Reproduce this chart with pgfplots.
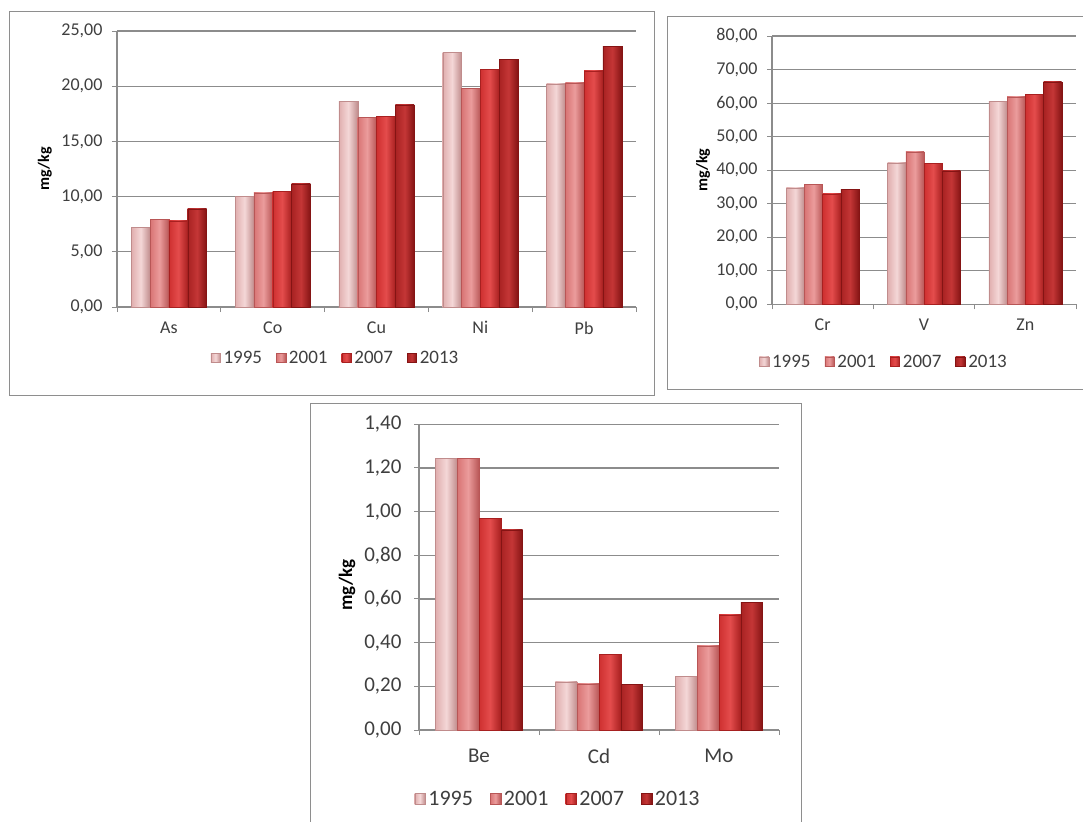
\documentclass[border=0pt]{standalone}
\usepackage{fontspec}
\setmainfont{Carlito}
\usepackage{pgfplots}
\pgfplotsset{compat=1.18}

\definecolor{framec}{HTML}{8E8E8E}
\definecolor{gridc}{HTML}{8C8C8C}
\definecolor{txt}{HTML}{3F3F3F}
% 1995
\definecolor{aL}{HTML}{F4D7D7}\definecolor{aM}{HTML}{E0AEAE}\definecolor{aD}{HTML}{C08C8C}
% 2001
\definecolor{bL}{HTML}{EB9C9C}\definecolor{bM}{HTML}{D87474}\definecolor{bD}{HTML}{B85656}
% 2007
\definecolor{cL}{HTML}{E44C4C}\definecolor{cM}{HTML}{CE3030}\definecolor{cD}{HTML}{A82020}
% 2013
\definecolor{dL}{HTML}{C43636}\definecolor{dM}{HTML}{A82222}\definecolor{dD}{HTML}{851414}

\pgfplotsset{
  yA/.style={draw=aD, line width=0.4pt, left color=aM, right color=aD, middle color=aL},
  yB/.style={draw=bD, line width=0.4pt, left color=bM, right color=bD, middle color=bL},
  yC/.style={draw=cD, line width=0.4pt, left color=cM, right color=cD, middle color=cL},
  yD/.style={draw=dD, line width=0.4pt, left color=dM, right color=dD, middle color=dL},
  % one bar per plot, so every bar gets its own gradient
  bA/.style={yA, forget plot, bar shift=-1.5*\pgfplotbarwidth},
  bB/.style={yB, forget plot, bar shift=-0.5*\pgfplotbarwidth},
  bC/.style={yC, forget plot, bar shift=0.5*\pgfplotbarwidth},
  bD/.style={yD, forget plot, bar shift=1.5*\pgfplotbarwidth},
  panel/.style={
    scale only axis,
    axis x line*=bottom, axis y line*=left,
    axis line style={draw=gridc, line width=1.1pt},
    ymajorgrids, grid style={draw=gridc, line width=1.1pt},
    tick align=outside, major tick length=5pt,
    tick style={draw=gridc, line width=1pt},
    ybar=0pt, ymin=0,
    xticklabels={},
    /pgf/number format/assume math mode=true,
    yticklabel style={/pgf/number format/fixed, /pgf/number format/fixed zerofill,
      /pgf/number format/precision=2, /pgf/number format/use comma, xshift=-6pt},
    tick label style={text=txt, font=\fontsize{18}{20}\selectfont},
    ylabel={mg/kg},
    ylabel style={font=\bfseries\fontsize{16}{18}\selectfont, text=black, anchor=center},
    extra x tick style={major tick length=0pt, grid=none,
      tick label style={font=\fontsize{18}{20}\selectfont, yshift=-11pt}},
    legend columns=4,
    legend style={draw=none, fill=none, anchor=center, text=txt,
      font=\fontsize{19}{21}\selectfont,
      nodes={inner xsep=3pt},
      /tikz/every even column/.append style={column sep=11pt}},
    legend image code/.code={\draw[##1] (0pt,-4.5pt) rectangle (9.5pt,5pt);},
  },
}

\begin{document}
\begin{tikzpicture}
\useasboundingbox (0pt,0pt) rectangle (1083pt,-821pt);
\fill[white] (0pt,0pt) rectangle (1083pt,-821pt);

% frames around the three charts
\draw[framec, line width=1pt] (9.5pt,-12pt) rectangle (654pt,-395pt);
\draw[framec, line width=1pt] (1090pt,-17pt) -- (667pt,-17pt) -- (667pt,-389pt) -- (1090pt,-389pt);
\draw[framec, line width=1pt] (310pt,-830pt) -- (310pt,-403pt) -- (801.5pt,-403pt) -- (801.5pt,-830pt);

% As, Co, Cu, Ni, Pb
\begin{axis}[panel,
  at={(117pt,-307pt)}, anchor=south west,
  width=519pt, height=276pt,
  xmin=-0.5, xmax=4.5, ymax=25, ytick distance=5,
  xtick={-0.5,0.5,...,4.5},
  extra x ticks={0,1,2,3,4}, extra x tick labels={As,Co,Cu,Ni,Pb},
  bar width=18.8pt,
  ylabel style={at={(axis description cs:-0.139,0.5)}},
  legend style={at={(axis description cs:0.422,-0.185)}},
]
% 1995
\addplot[bA] coordinates {(0,7.2)};
\addplot[bA] coordinates {(1,10.05)};
\addplot[bA] coordinates {(2,18.6)};
\addplot[bA] coordinates {(3,23.05)};
\addplot[bA] coordinates {(4,20.2)};
% 2001
\addplot[bB] coordinates {(0,7.95)};
\addplot[bB] coordinates {(1,10.35)};
\addplot[bB] coordinates {(2,17.2)};
\addplot[bB] coordinates {(3,19.8)};
\addplot[bB] coordinates {(4,20.3)};
% 2007
\addplot[bC] coordinates {(0,7.8)};
\addplot[bC] coordinates {(1,10.45)};
\addplot[bC] coordinates {(2,17.25)};
\addplot[bC] coordinates {(3,21.5)};
\addplot[bC] coordinates {(4,21.4)};
% 2013
\addplot[bD] coordinates {(0,8.9)};
\addplot[bD] coordinates {(1,11.15)};
\addplot[bD] coordinates {(2,18.3)};
\addplot[bD] coordinates {(3,22.45)};
\addplot[bD] coordinates {(4,23.6)};
\addlegendimage{yA}\addlegendimage{yB}\addlegendimage{yC}\addlegendimage{yD}
\legend{1995,2001,2007,2013}
\end{axis}

% Cr, V, Zn
\begin{axis}[panel,
  at={(772pt,-304.3pt)}, anchor=south west,
  width=304pt, height=268.3pt,
  xmin=-0.5, xmax=2.5, ymax=80, ytick distance=10,
  xtick={-0.5,0.5,...,2.5},
  extra x ticks={0,1,2}, extra x tick labels={Cr,V,Zn},
  bar width=18.2pt,
  ylabel style={at={(axis description cs:-0.227,0.5)}},
  legend style={at={(axis description cs:0.37,-0.215)}},
]
% 1995
\addplot[bA] coordinates {(0,34.7)};
\addplot[bA] coordinates {(1,42.2)};
\addplot[bA] coordinates {(2,60.6)};
% 2001
\addplot[bB] coordinates {(0,35.8)};
\addplot[bB] coordinates {(1,45.5)};
\addplot[bB] coordinates {(2,61.9)};
% 2007
\addplot[bC] coordinates {(0,32.9)};
\addplot[bC] coordinates {(1,42.0)};
\addplot[bC] coordinates {(2,62.6)};
% 2013
\addplot[bD] coordinates {(0,34.3)};
\addplot[bD] coordinates {(1,39.8)};
\addplot[bD] coordinates {(2,66.3)};
\addlegendimage{yA}\addlegendimage{yB}\addlegendimage{yC}\addlegendimage{yD}
\legend{1995,2001,2007,2013}
\end{axis}

% Be, Cd, Mo
\begin{axis}[panel,
  at={(419pt,-730pt)}, anchor=south west,
  width=360pt, height=305.7pt,
  xmin=-0.5, xmax=2.5, ymax=1.4, ytick distance=0.2,
  xtick={-0.5,0.5,...,2.5},
  extra x ticks={0,1,2}, extra x tick labels={Be,Cd,Mo},
  bar width=21.8pt,
  tick label style={font=\fontsize{21}{23}\selectfont},
  yticklabel style={xshift=-3pt},
  extra x tick style={tick label style={font=\fontsize{21}{23}\selectfont, yshift=-4pt}},
  ylabel style={font=\bfseries\fontsize{19}{21}\selectfont, at={(axis description cs:-0.2,0.474)}},
  legend style={at={(axis description cs:0.3875,-0.2257)}, font=\fontsize{22}{24}\selectfont,
    /tikz/every even column/.append style={column sep=14pt}},
  legend image code/.code={\draw[#1] (0pt,-5pt) rectangle (10.5pt,5.5pt);},
]
% 1995
\addplot[bA] coordinates {(0,1.245)};
\addplot[bA] coordinates {(1,0.221)};
\addplot[bA] coordinates {(2,0.245)};
% 2001
\addplot[bB] coordinates {(0,1.243)};
\addplot[bB] coordinates {(1,0.211)};
\addplot[bB] coordinates {(2,0.385)};
% 2007
\addplot[bC] coordinates {(0,0.97)};
\addplot[bC] coordinates {(1,0.348)};
\addplot[bC] coordinates {(2,0.527)};
% 2013
\addplot[bD] coordinates {(0,0.916)};
\addplot[bD] coordinates {(1,0.209)};
\addplot[bD] coordinates {(2,0.585)};
\addlegendimage{yA}\addlegendimage{yB}\addlegendimage{yC}\addlegendimage{yD}
\legend{1995,2001,2007,2013}
\end{axis}
\end{tikzpicture}
\end{document}
